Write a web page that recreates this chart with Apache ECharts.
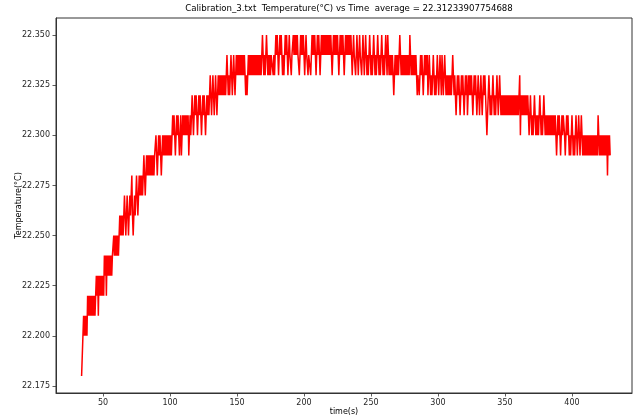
<!DOCTYPE html>
<html>
<head>
<meta charset="utf-8">
<script src="https://cdn.jsdelivr.net/npm/echarts@6/dist/echarts.min.js"></script>
<style>
  html, body { margin: 0; padding: 0; background: #ffffff; }
  #chart { width: 641px; height: 418px; }
</style>
</head>
<body>
<div id="chart"></div>
<script>
// Logged temperature readings from Calibration_3.txt.
// The sensor resolves 0.01 °C, so each reading is stored as one character:
// its step count above baseTemp ('0'..'9', then 'a'..'h').
// One string per 10 s of logging, one reading every 0.5 s.
const startTime = 34;      // s, first reading
const chunkSpan = 10;      // s covered by each string
const sampleStep = 0.5;    // s between readings
const baseTemp = 22.18;    // °C for code '0'
const tempStep = 0.01;     // °C per code step

const levelCodes = [
  "01232323243434343434",
  "34545354545454656465",
  "65656566767676767878",
  "787898789878989a8789",
  "89a989a9a9a9aba9abab",
  "abababababbcbabcbcba",
  "bcbcbcbcbcbcbcbcdcdc",
  "bcdcdcbcdbcdcdcdcdcd",
  "bcdcdedcdededcdededc",
  "dededcdededefedefede",
  "fedefefefefefefefgfe",
  "fefgfefgfefgfgfgfgfg",
  "fgfgfefefgfgfgfgfgfg",
  "fgfgfgfgfghgfgfghgfg",
  "fgfgggfgfghghgfghghg",
  "fgfghghgfghggfgghghg",
  "hghggfghghghgfghggfg",
  "ggfghghghgfghghgfghg",
  "hghghghghghghgfghghg",
  "hghgfghghghgfghghghg",
  "hghgfghggfghgfghggfg",
  "hgfghgfgfghgfgfghgfg",
  "fghgfgfghgfgfghgfhgf",
  "gfgfgfefgfgfgfghgfgf",
  "gfgfgfgfgfhgfgfgfgfg",
  "feffefgfgfefgfgfgefg",
  "fefefgfefefgfefgfegf",
  "efgfefefefefefgfefed",
  "efefedefefedefefdefe",
  "fefedefefedefedefede",
  "fefedcdefededefedede",
  "fedefededededededede",
  "dededededededefceded",
  "ededededcdedcdcdedcd",
  "cdcdedcdcdedcdcdcdcd",
  "cdcdcdcdcbcdcdcbcdcd",
  "dcbcdcdcbcbcdcbcbcdc",
  "bcdcbcdcbcbcbcbcbcbc",
  "bcbcbcbcbcbdcbcbcbcb",
  "cbcbcacbcb"
];

const titleText = "Calibration_3.txt  Temperature(°C) vs Time  average = 22.31233907754688";
const xName = "time(s)";
const yName = "Temperature(°C)";

// Tick positions shown on each axis
const xTicks = [50, 100, 150, 200, 250, 300, 350, 400];
const yTicks = [22.175, 22.200, 22.225, 22.250, 22.275, 22.300, 22.325, 22.350];

// Axis extents (data range plus a margin)
const xRange = [14.9, 444.8];
const yRange = [22.1715, 22.3585];

// Decode the readings into [time, temperature] pairs
const readings = [];
levelCodes.forEach((row, k) => {
  for (let j = 0; j < row.length; j++) {
    const t = startTime + k * chunkSpan + j * sampleStep;
    const steps = parseInt(row[j], 36);
    readings.push([t, +(baseTemp + steps * tempStep).toFixed(2)]);
  }
});

const FONT = '"DejaVu Sans", "Liberation Sans", sans-serif';
const INK = '#262626';

const plot = { left: 56, top: 18, right: 632, bottom: 393 };

const chart = echarts.init(document.getElementById('chart'), null, { renderer: 'canvas' });
chart.setOption({
  animation: false,
  backgroundColor: '#ffffff',
  grid: {
    left: plot.left,
    top: plot.top,
    width: plot.right - plot.left,
    height: plot.bottom - plot.top,
    show: true,
    borderColor: '#333333',
    borderWidth: 1,
    backgroundColor: 'transparent'
  },
  xAxis: {
    type: 'value',
    min: xRange[0],
    max: xRange[1],
    axisLine: { show: true, lineStyle: { color: '#333333', width: 1 } },
    axisTick: {
      show: true, inside: false, length: 3.5,
      customValues: xTicks,
      lineStyle: { color: '#333333', width: 0.8 }
    },
    axisLabel: {
      customValues: xTicks,
      color: INK, fontFamily: FONT, fontSize: 8, margin: 6,
      formatter: v => String(v)
    },
    splitLine: { show: false }
  },
  yAxis: {
    type: 'value',
    min: yRange[0],
    max: yRange[1],
    axisLine: { show: true, lineStyle: { color: '#333333', width: 1 } },
    axisTick: {
      show: true, inside: false, length: 3.5,
      customValues: yTicks,
      lineStyle: { color: '#333333', width: 0.8 }
    },
    axisLabel: {
      customValues: yTicks,
      color: INK, fontFamily: FONT, fontSize: 8, margin: 6,
      formatter: v => Number(v).toFixed(3)
    },
    splitLine: { show: false }
  },
  graphic: [
    {
      type: 'text', x: 349, y: 9,
      style: {
        text: titleText, font: '8.6px ' + FONT, fill: '#000000',
        align: 'center', verticalAlign: 'middle',
        textAlign: 'center', textVerticalAlign: 'middle'
      }
    },
    {
      type: 'text', x: (plot.left + plot.right) / 2, y: 412,
      style: {
        text: xName, font: '8px ' + FONT, fill: '#000000',
        align: 'center', verticalAlign: 'middle',
        textAlign: 'center', textVerticalAlign: 'middle'
      }
    },
    {
      type: 'text', x: 19, y: (plot.top + plot.bottom) / 2, rotation: Math.PI / 2,
      style: {
        text: yName, font: '8px ' + FONT, fill: '#000000',
        align: 'center', verticalAlign: 'middle',
        textAlign: 'center', textVerticalAlign: 'middle'
      }
    }
  ],
  series: [{
    type: 'line',
    data: readings,
    showSymbol: false,
    symbol: 'none',
    sampling: null,
    clip: true,
    silent: true,
    lineStyle: { color: '#ff0000', width: 1.5 }
  }]
});
</script>
</body>
</html>
